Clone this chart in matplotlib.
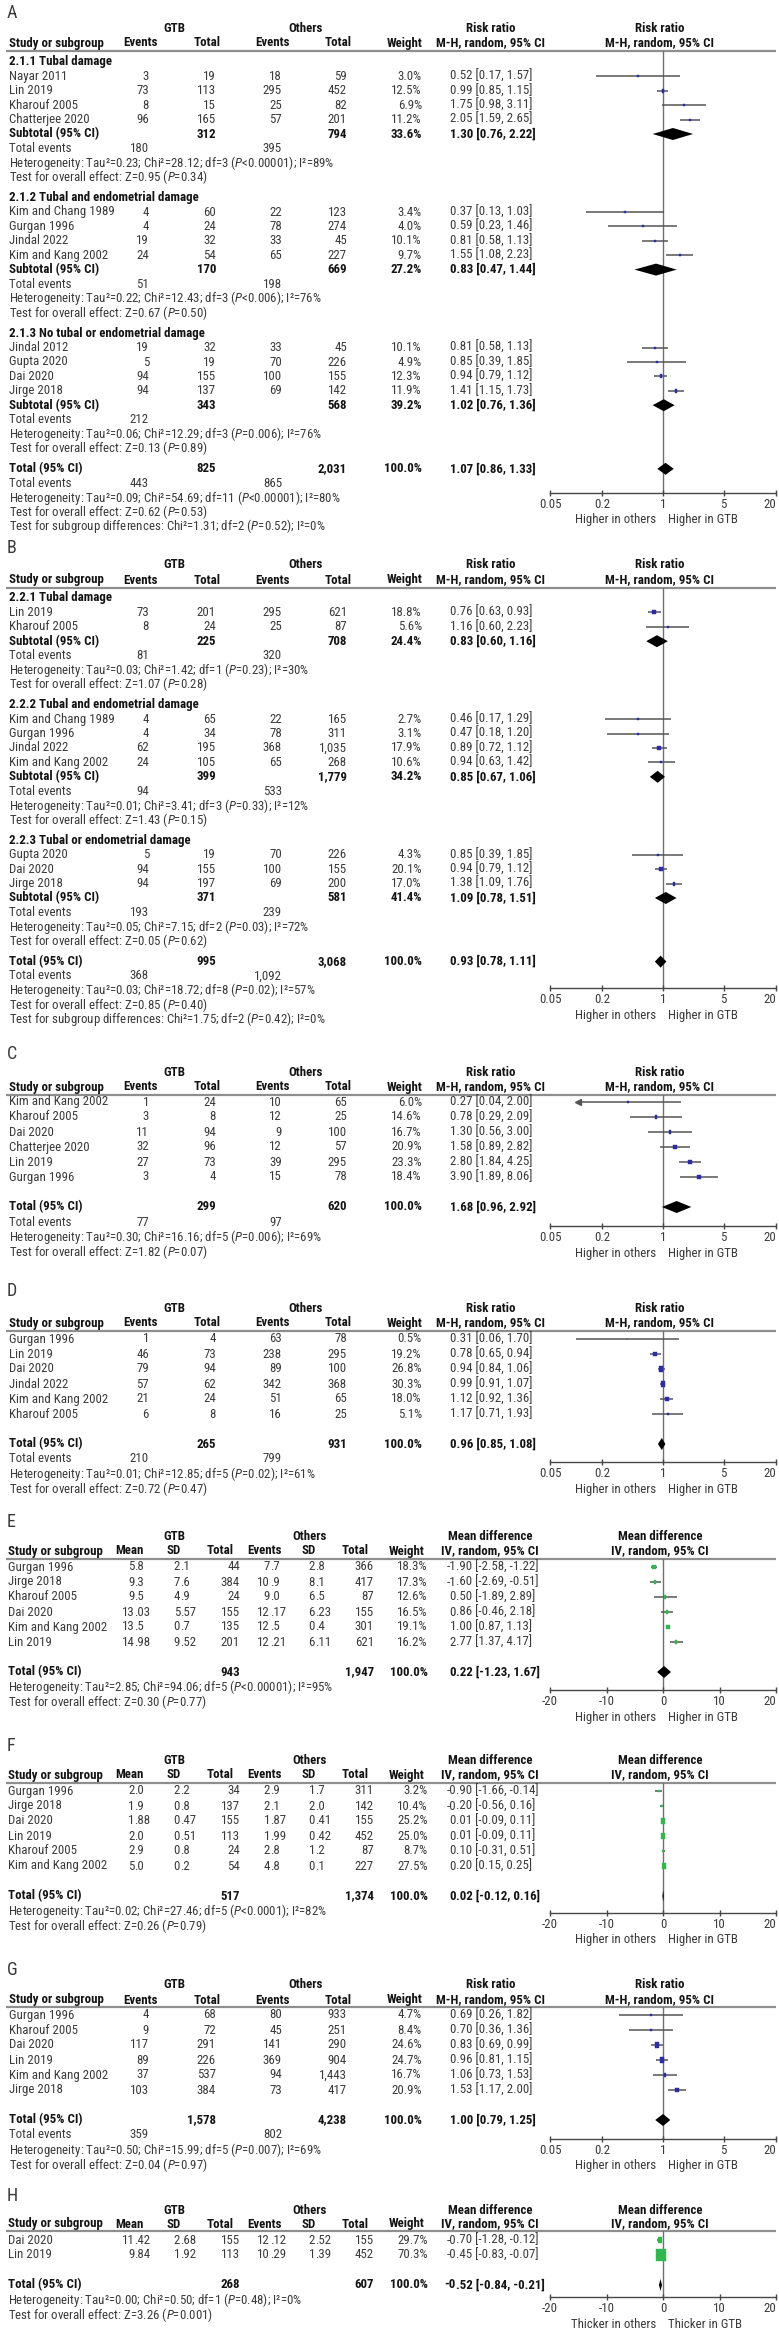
import math
import matplotlib
matplotlib.use('Agg')
import matplotlib.pyplot as plt
from matplotlib import font_manager
from matplotlib.path import Path
from matplotlib.ticker import NullLocator

# =================== DATA ===================
# ---- Panel A (risk ratio, subgroups) ----
A_subgroups = ['2.1.1 Tubal damage', '2.1.2 Tubal and endometrial damage',
               '2.1.3 No tubal or endometrial damage']
A_study = [['Nayar 2011', 'Lin 2019', 'Kharouf 2005', 'Chatterjee 2020'],
           ['Kim and Chang 1989', 'Gurgan 1996', 'Jindal 2022', 'Kim and Kang 2002'],
           ['Jindal 2012', 'Gupta 2020', 'Dai 2020', 'Jirge 2018']]
A_ev_gtb = [[3, 73, 8, 96], [4, 4, 19, 24], [19, 5, 94, 94]]
A_tot_gtb = [[19, 113, 15, 165], [60, 24, 32, 54], [32, 19, 155, 137]]
A_ev_oth = [[18, 295, 25, 57], [22, 78, 33, 65], [33, 70, 100, 69]]
A_tot_oth = [[59, 452, 82, 201], [123, 274, 45, 227], [45, 226, 155, 142]]
A_weight = [[3.0, 12.5, 6.9, 11.2], [3.4, 4.0, 10.1, 9.7], [10.1, 4.9, 12.3, 11.9]]
A_rr = [[0.52, 0.99, 1.75, 2.05], [0.37, 0.59, 0.81, 1.55], [0.81, 0.85, 0.94, 1.41]]
A_lo = [[0.17, 0.85, 0.98, 1.59], [0.13, 0.23, 0.58, 1.08], [0.58, 0.39, 0.79, 1.15]]
A_hi = [[1.57, 1.15, 3.11, 2.65], [1.03, 1.46, 1.13, 2.23], [1.13, 1.85, 1.12, 1.73]]
A_sub_tot_gtb = [312, 170, 343]
A_sub_tot_oth = [794, 669, 568]
A_sub_weight = [33.6, 27.2, 39.2]
A_sub_rr = [1.30, 0.83, 1.02]
A_sub_lo = [0.76, 0.47, 0.76]
A_sub_hi = [2.22, 1.44, 1.36]
A_sub_ev_gtb = [180, 51, 212]
A_sub_ev_oth = [395, 198, None]
A_sub_het = ['Heterogeneity: Tau²=0.23; Chi²=28.12; df=3 (P<0.00001); I²=89%',
             'Heterogeneity: Tau²=0.22; Chi²=12.43; df=3 (P<0.006); I²=76%',
             'Heterogeneity: Tau²=0.06; Chi²=12.29; df=3 (P=0.006); I²=76%']
A_sub_test = ['Test for overall effect: Z=0.95 (P=0.34)',
              'Test for overall effect: Z=0.67 (P=0.50)',
              'Test for overall effect: Z=0.13 (P=0.89)']
A_total_n = [825, 2031]
A_total_rr = [1.07, 0.86, 1.33]
A_total_ev = [443, 865]
A_total_notes = ['Heterogeneity: Tau²=0.09; Chi²=54.69; df=11 (P<0.00001); I²=80%',
                 'Test for overall effect: Z=0.62 (P=0.53)',
                 'Test for subgroup differences: Chi²=1.31; df=2 (P=0.52); I²=0%']

# ---- Panel B (risk ratio, subgroups) ----
B_subgroups = ['2.2.1 Tubal damage', '2.2.2 Tubal and endometrial damage',
               '2.2.3 Tubal or endometrial damage']
B_study = [['Lin 2019', 'Kharouf 2005'],
           ['Kim and Chang 1989', 'Gurgan 1996', 'Jindal 2022', 'Kim and Kang 2002'],
           ['Gupta 2020', 'Dai 2020', 'Jirge 2018']]
B_ev_gtb = [[73, 8], [4, 4, 62, 24], [5, 94, 94]]
B_tot_gtb = [[201, 24], [65, 34, 195, 105], [19, 155, 197]]
B_ev_oth = [[295, 25], [22, 78, 368, 65], [70, 100, 69]]
B_tot_oth = [[621, 87], [165, 311, 1035, 268], [226, 155, 200]]
B_weight = [[18.8, 5.6], [2.7, 3.1, 17.9, 10.6], [4.3, 20.1, 17.0]]
B_rr = [[0.76, 1.16], [0.46, 0.47, 0.89, 0.94], [0.85, 0.94, 1.38]]
B_lo = [[0.63, 0.60], [0.17, 0.18, 0.72, 0.63], [0.39, 0.79, 1.09]]
B_hi = [[0.93, 2.23], [1.29, 1.20, 1.12, 1.42], [1.85, 1.12, 1.76]]
B_sub_tot_gtb = [225, 399, 371]
B_sub_tot_oth = [708, 1779, 581]
B_sub_weight = [24.4, 34.2, 41.4]
B_sub_rr = [0.83, 0.85, 1.09]
B_sub_lo = [0.60, 0.67, 0.78]
B_sub_hi = [1.16, 1.06, 1.51]
B_sub_ev_gtb = [81, 94, 193]
B_sub_ev_oth = [320, 533, 239]
B_sub_het = ['Heterogeneity: Tau²=0.03; Chi²=1.42; df=1 (P=0.23); I²=30%',
             'Heterogeneity: Tau²=0.01; Chi²=3.41; df=3 (P=0.33); I²=12%',
             'Heterogeneity: Tau²=0.05; Chi²=7.15; df=2 (P=0.03); I²=72%']
B_sub_test = ['Test for overall effect: Z=1.07 (P=0.28)',
              'Test for overall effect: Z=1.43 (P=0.15)',
              'Test for overall effect: Z=0.05 (P=0.62)']
B_total_n = [995, 3068]
B_total_rr = [0.93, 0.78, 1.11]
B_total_ev = [368, 1092]
B_total_notes = ['Heterogeneity: Tau²=0.03; Chi²=18.72; df=8 (P=0.02); I²=57%',
                 'Test for overall effect: Z=0.85 (P=0.40)',
                 'Test for subgroup differences: Chi²=1.75; df=2 (P=0.42); I²=0%']

# ---- Panel C (risk ratio) ----
C_study = ['Kim and Kang 2002', 'Kharouf 2005', 'Dai 2020', 'Chatterjee 2020', 'Lin 2019', 'Gurgan 1996']
C_ev_gtb = [1, 3, 11, 32, 27, 3]
C_tot_gtb = [24, 8, 94, 96, 73, 4]
C_ev_oth = [10, 12, 9, 12, 39, 15]
C_tot_oth = [65, 25, 100, 57, 295, 78]
C_weight = [6.0, 14.6, 16.7, 20.9, 23.3, 18.4]
C_rr = [0.27, 0.78, 1.30, 1.58, 2.80, 3.90]
C_lo = [0.04, 0.29, 0.56, 0.89, 1.84, 1.89]
C_hi = [2.00, 2.09, 3.00, 2.82, 4.25, 8.06]
C_total_n = [299, 620]
C_total_rr = [1.68, 0.96, 2.92]
C_total_ev = [77, 97]
C_total_notes = ['Heterogeneity: Tau²=0.30; Chi²=16.16; df=5 (P=0.006); I²=69%',
                 'Test for overall effect: Z=1.82 (P=0.07)']

# ---- Panel D (risk ratio) ----
D_study = ['Gurgan 1996', 'Lin 2019', 'Dai 2020', 'Jindal 2022', 'Kim and Kang 2002', 'Kharouf 2005']
D_ev_gtb = [1, 46, 79, 57, 21, 6]
D_tot_gtb = [4, 73, 94, 62, 24, 8]
D_ev_oth = [63, 238, 89, 342, 51, 16]
D_tot_oth = [78, 295, 100, 368, 65, 25]
D_weight = [0.5, 19.2, 26.8, 30.3, 18.0, 5.1]
D_rr = [0.31, 0.78, 0.94, 0.99, 1.12, 1.17]
D_lo = [0.06, 0.65, 0.84, 0.91, 0.92, 0.71]
D_hi = [1.70, 0.94, 1.06, 1.07, 1.36, 1.93]
D_total_n = [265, 931]
D_total_rr = [0.96, 0.85, 1.08]
D_total_ev = [210, 799]
D_total_notes = ['Heterogeneity: Tau²=0.01; Chi²=12.85; df=5 (P=0.02); I²=61%',
                 'Test for overall effect: Z=0.72 (P=0.47)']

# ---- Panel E (mean difference) ----
E_study = ['Gurgan 1996', 'Jirge 2018', 'Kharouf 2005', 'Dai 2020', 'Kim and Kang 2002', 'Lin 2019']
E_mean_gtb = ['5.8', '9.3', '9.5', '13.03', '13.5', '14.98']
E_sd_gtb = ['2.1', '7.6', '4.9', '5.57', '0.7', '9.52']
E_tot_gtb = [44, 384, 24, 155, 135, 201]
E_mean_oth = ['7.7', '10.9', '9.0', '12.17', '12.5', '12.21']
E_sd_oth = ['2.8', '8.1', '6.5', '6.23', '0.4', '6.11']
E_tot_oth = [366, 417, 87, 155, 301, 621]
E_weight = [18.3, 17.3, 12.6, 16.5, 19.1, 16.2]
E_md = [-1.90, -1.60, 0.50, 0.86, 1.00, 2.77]
E_lo = [-2.58, -2.69, -1.89, -0.46, 0.87, 1.37]
E_hi = [-1.22, -0.51, 2.89, 2.18, 1.13, 4.17]
E_total_n = [943, 1947]
E_total_md = [0.22, -1.23, 1.67]
E_total_notes = ['Heterogeneity: Tau²=2.85; Chi²=94.06; df=5 (P<0.00001); I²=95%',
                 'Test for overall effect: Z=0.30 (P=0.77)']

# ---- Panel F (mean difference) ----
F_study = ['Gurgan 1996', 'Jirge 2018', 'Dai 2020', 'Lin 2019', 'Kharouf 2005', 'Kim and Kang 2002']
F_mean_gtb = ['2.0', '1.9', '1.88', '2.0', '2.9', '5.0']
F_sd_gtb = ['2.2', '0.8', '0.47', '0.51', '0.8', '0.2']
F_tot_gtb = [34, 137, 155, 113, 24, 54]
F_mean_oth = ['2.9', '2.1', '1.87', '1.99', '2.8', '4.8']
F_sd_oth = ['1.7', '2.0', '0.41', '0.42', '1.2', '0.1']
F_tot_oth = [311, 142, 155, 452, 87, 227]
F_weight = [3.2, 10.4, 25.2, 25.0, 8.7, 27.5]
F_md = [-0.90, -0.20, 0.01, 0.01, 0.10, 0.20]
F_lo = [-1.66, -0.56, -0.09, -0.09, -0.31, 0.15]
F_hi = [-0.14, 0.16, 0.11, 0.11, 0.51, 0.25]
F_total_n = [517, 1374]
F_total_md = [0.02, -0.12, 0.16]
F_total_notes = ['Heterogeneity: Tau²=0.02; Chi²=27.46; df=5 (P<0.0001); I²=82%',
                 'Test for overall effect: Z=0.26 (P=0.79)']

# ---- Panel G (risk ratio) ----
G_study = ['Gurgan 1996', 'Kharouf 2005', 'Dai 2020', 'Lin 2019', 'Kim and Kang 2002', 'Jirge 2018']
G_ev_gtb = [4, 9, 117, 89, 37, 103]
G_tot_gtb = [68, 72, 291, 226, 537, 384]
G_ev_oth = [80, 45, 141, 369, 94, 73]
G_tot_oth = [933, 251, 290, 904, 1443, 417]
G_weight = [4.7, 8.4, 24.6, 24.7, 16.7, 20.9]
G_rr = [0.69, 0.70, 0.83, 0.96, 1.06, 1.53]
G_lo = [0.26, 0.36, 0.69, 0.81, 0.73, 1.17]
G_hi = [1.82, 1.36, 0.99, 1.15, 1.53, 2.00]
G_total_n = [1578, 4238]
G_total_rr = [1.00, 0.79, 1.25]
G_total_ev = [359, 802]
G_total_notes = ['Heterogeneity: Tau²=0.50; Chi²=15.99; df=5 (P=0.007); I²=69%',
                 'Test for overall effect: Z=0.04 (P=0.97)']

# ---- Panel H (mean difference) ----
H_study = ['Dai 2020', 'Lin 2019']
H_mean_gtb = ['11.42', '9.84']
H_sd_gtb = ['2.68', '1.92']
H_tot_gtb = [155, 113]
H_mean_oth = ['12.12', '10.29']
H_sd_oth = ['2.52', '1.39']
H_tot_oth = [155, 452]
H_weight = [29.7, 70.3]
H_md = [-0.70, -0.45]
H_lo = [-1.28, -0.83]
H_hi = [-0.12, -0.07]
H_total_n = [268, 607]
H_total_md = [-0.52, -0.84, -0.21]
H_total_notes = ['Heterogeneity: Tau²=0.00; Chi²=0.50; df=1 (P=0.48); I²=0%',
                 'Test for overall effect: Z=3.26 (P=0.001)']

# axis ticks / labels
RR_TICKS = [0.05, 0.2, 1, 5, 20]
RR_LABELS = ['0.05', '0.2', '1', '5', '20']
MD_TICKS = [-20, -10, 0, 10, 20]
MD_LABELS = ['-20', '-10', '0', '10', '20']
FOOT_HIGHER = ['Higher in others', 'Higher in GTB']
FOOT_THICKER = ['Thicker in others', 'Thicker in GTB']

# =================== STYLE / LAYOUT ===================
def pick_font(cands):
    for c in cands:
        try:
            font_manager.findfont(font_manager.FontProperties(family=c), fallback_to_default=False)
            return c
        except Exception:
            continue
    return 'DejaVu Sans'

FONT = pick_font(['Liberation Sans Narrow', 'Roboto Condensed', 'Liberation Sans'])
plt.rcParams['font.family'] = [FONT, 'DejaVu Sans']
plt.rcParams['mathtext.fontset'] = 'custom'
plt.rcParams['mathtext.rm'] = FONT
plt.rcParams['mathtext.it'] = FONT + ':italic'
plt.rcParams['mathtext.bf'] = FONT + ':bold'

W, H = 779, 2334
DPI = 100
FS = 9.3
C_TXT = '#3a3a3a'
C_BOLD = '#141414'
C_LINE = '#8e8e8e'
C_CI = '#555555'
C_VL = '#707070'
C_AX = '#474747'
BLUE = '#2b2bae'
GREEN = '#2fb84c'
FX0, FX1 = 550, 776

# 'sf' = horizontal compression of the plotted data relative to the tick spacing, as drawn in the source
LAY = {
    'A': dict(label=13, grp=28, head=43, hline=51, y0=62, step=14.4, gap=6, axis=493, sf=1.0),
    'B': dict(label=548, grp=565, head=580, hline=588, y0=598, step=14.4, gap=6, axis=988, sf=0.87),
    'C': dict(label=1054, grp=1072, head=1087, hline=1095, y0=1102, step=15, gap=0, axis=1226, sf=0.70),
    'D': dict(label=1291, grp=1308, head=1323, hline=1331, y0=1339, step=15, gap=0, axis=1462, sf=0.82),
    'E': dict(label=1522, grp=1536, head=1551, hline=1559, y0=1567, step=15, gap=0, axis=1690, sf=0.85),
    'F': dict(label=1746, grp=1761, head=1775, hline=1783, y0=1791, step=15, gap=0, axis=1913, sf=0.85),
    'G': dict(label=1970, grp=1985, head=2000, hline=2007, y0=2015, step=15, gap=0, axis=2139, sf=0.87),
    'H': dict(label=2196, grp=2210, head=2224, hline=2231, y0=2240, step=15, gap=0, axis=2297, sf=0.85),
}

RR_X = dict(name=9, evg=149, totg=216, evo=282, toto=347, wt=422, ci=450,
            h_evg=141, h_totg=207, h_evo=273, h_toto=338, h_wt=405, h_ci=491, gtb=174, oth=306)
MD_X = dict(name=8, mg=134.5, sg=180, totg=240, mo=270, so=315, toto=374, wt=428, ci=456,
            h_mg=129, h_sg=174, h_totg=220, h_mo=265, h_so=309, h_toto=355, h_wt=407, h_ci=490,
            gtb=174, oth=310)

RECT = Path([(-0.375, -0.5), (0.375, -0.5), (0.375, 0.5), (-0.375, 0.5), (-0.375, -0.5)],
            [Path.MOVETO, Path.LINETO, Path.LINETO, Path.LINETO, Path.CLOSEPOLY])

fig = plt.figure(figsize=(W / DPI, H / DPI), dpi=DPI)
tax = fig.add_axes([0, 0, 1, 1])
tax.set_xlim(0, W)
tax.set_ylim(H, 0)
tax.axis('off')


def put(x, y, s, ha='left', bold=False, size=FS, color=None):
    s = s.replace('(P', r'($P$')
    tax.text(x, y, s, ha=ha, va='center', fontsize=size,
             fontweight='bold' if bold else 'normal',
             color=color or (C_BOLD if bold else C_TXT))


def put_dec(x, y, s, bold=False):
    if '.' in s:
        a, b = s.split('.', 1)
        put(x, y, a, 'right', bold)
        put(x, y, '.' + b, 'left', bold)
    else:
        put(x, y, s, 'right', bold)


def fmt_ci(v):
    return f'{v[0]:.2f} [{v[1]:.2f}, {v[2]:.2f}]'


def make_forest(lay, kind, foot):
    top, bot, sf = lay['hline'], lay['axis'], lay['sf']
    ax = fig.add_axes([FX0 / W, 1 - bot / H, (FX1 - FX0) / W, (bot - top) / H])
    ax.patch.set_alpha(0)
    ax.set_ylim(bot, top)
    if kind == 'rr':
        ax.set_xscale('log')
        pos = [10 ** (math.log10(t) / sf) for t in RR_TICKS]
        labels, ref, nominal = RR_LABELS, 1, (RR_TICKS[0], RR_TICKS[-1])
    else:
        pos = [t / sf for t in MD_TICKS]
        labels, ref, nominal = MD_LABELS, 0, (MD_TICKS[0], MD_TICKS[-1])
    ax.set_xlim(pos[0], pos[-1])
    ax.set_xticks(pos)
    tl = ax.set_xticklabels(labels, fontsize=FS, color=C_TXT)
    tl[-1].set_ha('right')
    ax.xaxis.set_minor_locator(NullLocator())
    ax.set_yticks([])
    for s in ['top', 'left', 'right']:
        ax.spines[s].set_visible(False)
    ax.spines['bottom'].set_color(C_AX)
    ax.spines['bottom'].set_linewidth(1.0)
    ax.tick_params(axis='x', direction='inout', length=5, width=1.0, color=C_AX, pad=1.0)
    ax.axvline(ref, color=C_VL, lw=1.0, zorder=1)
    fy = bot + 27
    put(656, fy, foot[0], 'right')
    put(668, fy, foot[1], 'left')
    ax._nominal = nominal
    return ax


def study_mark(ax, y, est, lo, hi, w, color):
    xmin, xmax = ax.get_xlim()
    ax.plot([max(lo, xmin), min(hi, xmax)], [y, y], color=C_CI, lw=1.1,
            solid_capstyle='butt', zorder=3, clip_on=False)
    if lo < ax._nominal[0]:
        ax.plot([max(lo, xmin)], [y], marker='<', ms=4, color=C_CI, zorder=3, clip_on=False)
    if hi > ax._nominal[1]:
        ax.plot([min(hi, xmax)], [y], marker='>', ms=4, color=C_CI, zorder=3, clip_on=False)
    hpx = 1.2 + 0.16 * w
    ax.plot([est], [y], marker=RECT, ms=hpx * 0.72, color=color, mec=color, mew=0.3,
            ls='none', zorder=4, clip_on=False)


def diamond(ax, y, v):
    est, lo, hi = v
    ax.fill([lo, est, hi, est], [y, y - 6, y, y + 6], color='black', lw=0, zorder=5, clip_on=False)


def rr_header(name, lay):
    X = RR_X
    tax.text(7, lay['label'], name, fontsize=13, va='center', ha='left', color=C_TXT)
    g, h = lay['grp'], lay['head']
    put(X['gtb'], g, 'GTB', 'center', True)
    put(X['oth'], g, 'Others', 'center', True)
    put(X['h_ci'], g, 'Risk ratio', 'center', True)
    put(660, g, 'Risk ratio', 'center', True)
    put(X['name'], h, 'Study or subgroup', bold=True)
    put(X['h_evg'], h, 'Events', 'center', True)
    put(X['h_totg'], h, 'Total', 'center', True)
    put(X['h_evo'], h, 'Events', 'center', True)
    put(X['h_toto'], h, 'Total', 'center', True)
    put(X['h_wt'], h, 'Weight', 'center', True)
    put(X['h_ci'], h, 'M-H, random, 95% CI', 'center', True)
    put(660, h, 'M-H, random, 95% CI', 'center', True)
    tax.plot([6, 776], [lay['hline']] * 2, color=C_LINE, lw=1.6, solid_capstyle='butt')


def md_header(name, lay):
    X = MD_X
    tax.text(7, lay['label'], name, fontsize=13, va='center', ha='left', color=C_TXT)
    g, h = lay['grp'], lay['head']
    put(X['gtb'], g, 'GTB', 'center', True)
    put(X['oth'], g, 'Others', 'center', True)
    put(X['h_ci'], g, 'Mean difference', 'center', True)
    put(660, g, 'Mean difference', 'center', True)
    put(X['name'], h, 'Study or subgroup', bold=True)
    put(X['h_mg'], h, 'Mean', 'center', True)
    put(X['h_sg'], h, 'SD', 'center', True)
    put(X['h_totg'], h, 'Total', 'center', True)
    put(X['h_mo'], h, 'Events', 'center', True)
    put(X['h_so'], h, 'SD', 'center', True)
    put(X['h_toto'], h, 'Total', 'center', True)
    put(X['h_wt'], h, 'Weight', 'center', True)
    put(X['h_ci'], h, 'IV, random, 95% CI', 'center', True)
    put(660, h, 'IV, random, 95% CI', 'center', True)
    tax.plot([6, 776], [lay['hline']] * 2, color=C_LINE, lw=1.6, solid_capstyle='butt')


def rr_study_row(ax, y, name, evg, totg, evo, toto, w, est, lo, hi):
    X = RR_X
    put(X['name'], y, name)
    put(X['evg'], y, f'{evg:,}', 'right')
    put(X['totg'], y, f'{totg:,}', 'right')
    put(X['evo'], y, f'{evo:,}', 'right')
    put(X['toto'], y, f'{toto:,}', 'right')
    put(X['wt'], y, f'{w:.1f}%', 'right')
    put(X['ci'], y, fmt_ci([est, lo, hi]))
    study_mark(ax, y, est, lo, hi, w, BLUE)


def rr_summary_row(ax, y, label, totg, toto, w, v):
    X = RR_X
    put(X['name'], y, label, bold=True)
    put(X['totg'], y, f'{totg:,}', 'right', True)
    put(X['toto'], y, f'{toto:,}', 'right', True)
    put(X['wt'], y, f'{w:.1f}%', 'right', True)
    put(X['ci'], y, fmt_ci(v), bold=True)
    diamond(ax, y, v)


def events_row(y, evg, evo):
    X = RR_X
    put(X['name'], y, 'Total events')
    if evg is not None:
        put(X['evg'], y, f'{evg:,}', 'right')
    if evo is not None:
        put(X['evo'], y, f'{evo:,}', 'right')


def rr_subgroup_panel(name, lay, subgroups, study, evg, totg, evo, toto, wt, rr, lo, hi,
                      s_totg, s_toto, s_wt, s_rr, s_lo, s_hi, s_evg, s_evo, s_het, s_test,
                      t_n, t_rr, t_ev, t_notes):
    rr_header(name, lay)
    ax = make_forest(lay, 'rr', FOOT_HIGHER)
    y, step, gap = lay['y0'], lay['step'], lay['gap']
    for gi in range(len(subgroups)):
        if gi > 0:
            y += gap
        put(RR_X['name'], y, subgroups[gi], bold=True)
        y += step
        for i in range(len(study[gi])):
            rr_study_row(ax, y, study[gi][i], evg[gi][i], totg[gi][i], evo[gi][i], toto[gi][i],
                         wt[gi][i], rr[gi][i], lo[gi][i], hi[gi][i])
            y += step
        rr_summary_row(ax, y, 'Subtotal (95% CI)', s_totg[gi], s_toto[gi], s_wt[gi],
                       [s_rr[gi], s_lo[gi], s_hi[gi]])
        y += step
        events_row(y, s_evg[gi], s_evo[gi])
        y += step
        put(RR_X['name'], y, s_het[gi])
        y += step
        put(RR_X['name'], y, s_test[gi])
        y += step
    y += gap
    rr_summary_row(ax, y, 'Total (95% CI)', t_n[0], t_n[1], 100.0, t_rr)
    y += step
    events_row(y, t_ev[0], t_ev[1])
    y += step
    for s in t_notes:
        put(RR_X['name'], y, s)
        y += step


def rr_simple_panel(name, lay, study, evg, totg, evo, toto, wt, rr, lo, hi, t_n, t_rr, t_ev, t_notes):
    rr_header(name, lay)
    ax = make_forest(lay, 'rr', FOOT_HIGHER)
    y, step = lay['y0'], lay['step']
    for i in range(len(study)):
        rr_study_row(ax, y, study[i], evg[i], totg[i], evo[i], toto[i], wt[i], rr[i], lo[i], hi[i])
        y += step
    y += step  # blank row
    rr_summary_row(ax, y, 'Total (95% CI)', t_n[0], t_n[1], 100.0, t_rr)
    y += step
    events_row(y, t_ev[0], t_ev[1])
    y += step
    for s in t_notes:
        put(RR_X['name'], y, s)
        y += step


def md_panel(name, lay, study, mg, sg, totg, mo, so, toto, wt, md, lo, hi, t_n, t_md, t_notes, foot):
    X = MD_X
    md_header(name, lay)
    ax = make_forest(lay, 'md', foot)
    y, step = lay['y0'], lay['step']
    for i in range(len(study)):
        put(X['name'], y, study[i])
        put_dec(X['mg'], y, mg[i])
        put_dec(X['sg'], y, sg[i])
        put(X['totg'], y, f'{totg[i]:,}', 'right')
        put_dec(X['mo'], y, mo[i])
        put_dec(X['so'], y, so[i])
        put(X['toto'], y, f'{toto[i]:,}', 'right')
        put(X['wt'], y, f'{wt[i]:.1f}%', 'right')
        put_dec(X['ci'], y, fmt_ci([md[i], lo[i], hi[i]]))
        study_mark(ax, y, md[i], lo[i], hi[i], wt[i], GREEN)
        y += step
    y += step
    put(X['name'], y, 'Total (95% CI)', bold=True)
    put(X['totg'], y, f'{t_n[0]:,}', 'right', True)
    put(X['toto'], y, f'{t_n[1]:,}', 'right', True)
    put(X['wt'], y, '100.0%', 'right', True)
    put_dec(X['ci'], y, fmt_ci(t_md), bold=True)
    diamond(ax, y, t_md)
    y += step
    for s in t_notes:
        put(X['name'], y, s)
        y += step


rr_subgroup_panel('A', LAY['A'], A_subgroups, A_study, A_ev_gtb, A_tot_gtb, A_ev_oth, A_tot_oth,
                  A_weight, A_rr, A_lo, A_hi, A_sub_tot_gtb, A_sub_tot_oth, A_sub_weight,
                  A_sub_rr, A_sub_lo, A_sub_hi, A_sub_ev_gtb, A_sub_ev_oth, A_sub_het, A_sub_test,
                  A_total_n, A_total_rr, A_total_ev, A_total_notes)
rr_subgroup_panel('B', LAY['B'], B_subgroups, B_study, B_ev_gtb, B_tot_gtb, B_ev_oth, B_tot_oth,
                  B_weight, B_rr, B_lo, B_hi, B_sub_tot_gtb, B_sub_tot_oth, B_sub_weight,
                  B_sub_rr, B_sub_lo, B_sub_hi, B_sub_ev_gtb, B_sub_ev_oth, B_sub_het, B_sub_test,
                  B_total_n, B_total_rr, B_total_ev, B_total_notes)
rr_simple_panel('C', LAY['C'], C_study, C_ev_gtb, C_tot_gtb, C_ev_oth, C_tot_oth, C_weight,
                C_rr, C_lo, C_hi, C_total_n, C_total_rr, C_total_ev, C_total_notes)
rr_simple_panel('D', LAY['D'], D_study, D_ev_gtb, D_tot_gtb, D_ev_oth, D_tot_oth, D_weight,
                D_rr, D_lo, D_hi, D_total_n, D_total_rr, D_total_ev, D_total_notes)
md_panel('E', LAY['E'], E_study, E_mean_gtb, E_sd_gtb, E_tot_gtb, E_mean_oth, E_sd_oth, E_tot_oth,
         E_weight, E_md, E_lo, E_hi, E_total_n, E_total_md, E_total_notes, FOOT_HIGHER)
md_panel('F', LAY['F'], F_study, F_mean_gtb, F_sd_gtb, F_tot_gtb, F_mean_oth, F_sd_oth, F_tot_oth,
         F_weight, F_md, F_lo, F_hi, F_total_n, F_total_md, F_total_notes, FOOT_HIGHER)
rr_simple_panel('G', LAY['G'], G_study, G_ev_gtb, G_tot_gtb, G_ev_oth, G_tot_oth, G_weight,
                G_rr, G_lo, G_hi, G_total_n, G_total_rr, G_total_ev, G_total_notes)
md_panel('H', LAY['H'], H_study, H_mean_gtb, H_sd_gtb, H_tot_gtb, H_mean_oth, H_sd_oth, H_tot_oth,
         H_weight, H_md, H_lo, H_hi, H_total_n, H_total_md, H_total_notes, FOOT_THICKER)

fig.savefig('out.png', dpi=DPI, facecolor='white')
